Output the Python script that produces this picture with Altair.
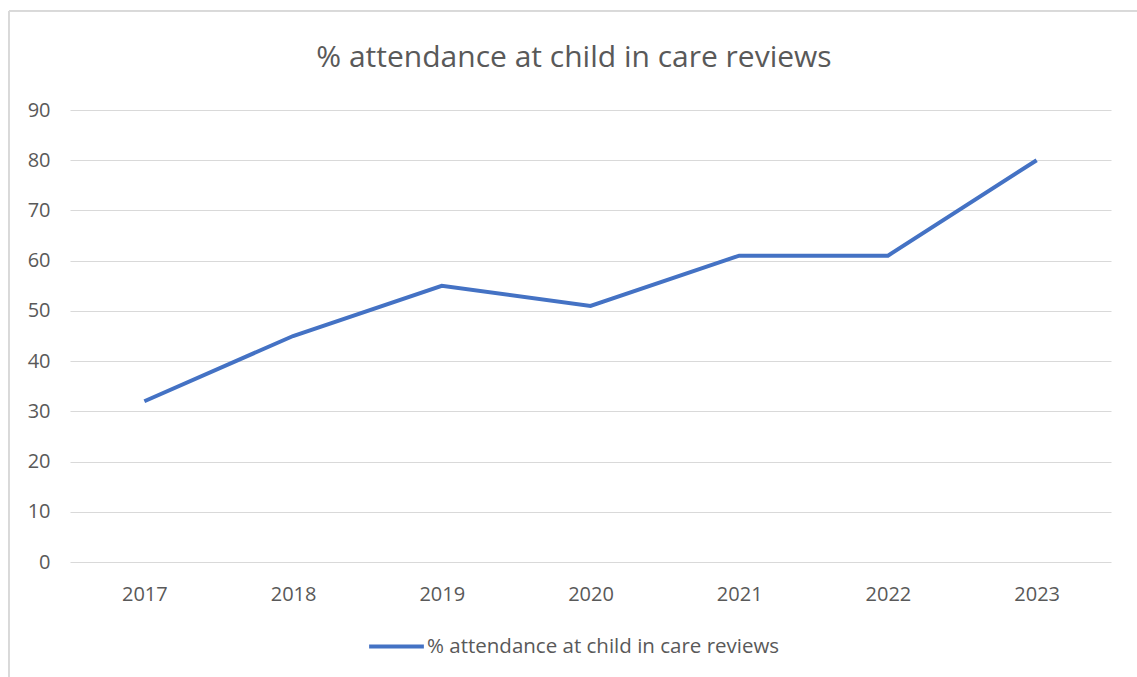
import altair as alt
import pandas as pd

years = ["2017", "2018", "2019", "2020", "2021", "2022", "2023"]
values = [32, 45, 55, 51, 61, 61, 80]
series_name = "% attendance at child in care reviews"

df = pd.DataFrame({"Year": years, "Value": values, "Series": [series_name] * len(years)})
title_df = pd.DataFrame({"t": [series_name]})

FONT = "Open Sans"
GREY = "#595959"

line = alt.Chart(df).mark_line(strokeWidth=4, color="#4472C4").encode(
    x=alt.X("Year:N", sort=years, title=None,
            scale=alt.Scale(paddingInner=0, paddingOuter=0.5),
            axis=alt.Axis(labelAngle=0, labelFontSize=20, labelColor=GREY, labelFont=FONT,
                          ticks=False, domain=False, grid=False, labelPadding=22)),
    y=alt.Y("Value:Q", title=None,
            scale=alt.Scale(domain=[0, 90], nice=False),
            axis=alt.Axis(values=list(range(0, 91, 10)), labelFontSize=20, labelColor=GREY,
                          labelFont=FONT, ticks=False, domain=False, gridColor="#d9d9d9",
                          gridWidth=1, labelPadding=20)),
    color=alt.Color("Series:N", scale=alt.Scale(range=["#4472C4"]),
                    legend=alt.Legend(title=None, orient="none", legendX=297, legendY=507,
                                      symbolType="stroke", symbolSize=3000, symbolStrokeWidth=4,
                                      labelFontSize=20.5, labelColor=GREY, labelFont=FONT,
                                      labelOffset=1, labelLimit=600)),
)

title_text = alt.Chart(title_df).mark_text(
    font=FONT, fontSize=30, color=GREY, align="center", baseline="middle"
).encode(x=alt.value(504), y=alt.value(-52), text="t:N")

frame_top = alt.Chart(df).mark_rule(color="#d9d9d9", strokeWidth=1).encode(
    x=alt.value(-61), x2=alt.value(1100), y=alt.value(-99)
)
frame_left = alt.Chart(df).mark_rule(color="#d9d9d9", strokeWidth=1).encode(
    x=alt.value(-61), y=alt.value(-99), y2=alt.value(600)
)

chart = alt.layer(frame_top, frame_left, title_text, line).properties(
    width=1041, height=452,
    autosize=alt.AutoSizeParams(type="none"),
    padding={"left": 70, "top": 110, "right": 26, "bottom": 115},
    background="white",
).configure_view(strokeWidth=0)

chart.save("out.html", embed_options={"renderer": "svg", "actions": False})
